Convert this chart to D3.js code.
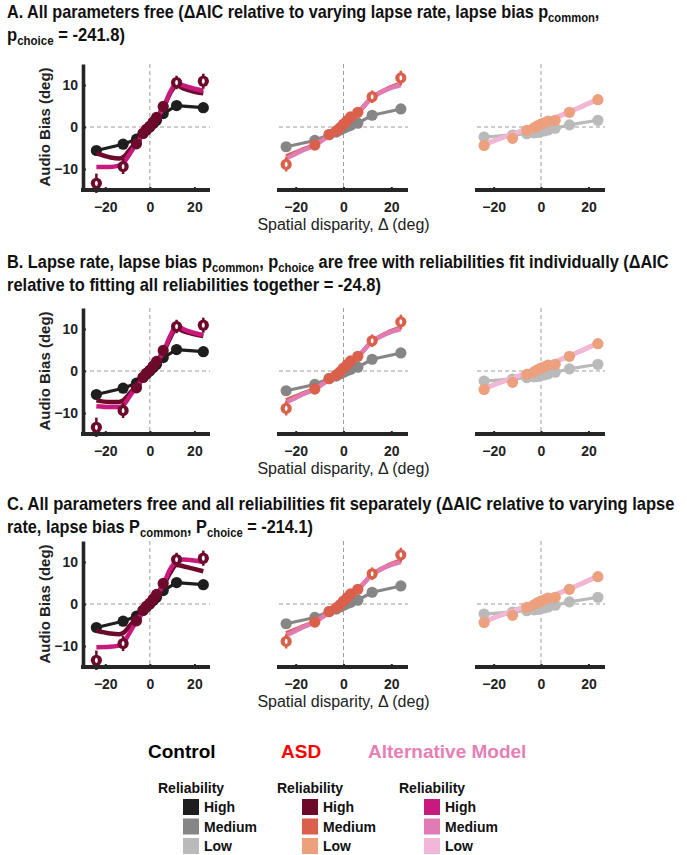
<!DOCTYPE html>
<html><head><meta charset="utf-8">
<script src="https://cdn.jsdelivr.net/npm/d3@7"></script>
<style>body{margin:0;background:#fff}svg{display:block}</style>
</head><body><svg id="c" width="687" height="855"></svg>
<script>
// ---------------- DATA ----------------
const disparity = [-24, -12, -6, -3, -1.5, 0, 1.5, 3, 6, 12, 24];
const xTicks = [-20, 0, 20];
const yTicks = [-10, 0, 10];
const reliabilities = ["High", "Medium", "Low"];

const ctrlHigh   = [-5.6, -4.1, -2.9, -1.5, -0.7, 0.0, 0.8, 1.6, 3.2, 5.1, 4.6];
const ctrlMedium = [-4.7, -3.2, -1.8, -1.2, -0.7, -0.3, 0.1, 0.4, 0.9, 2.8, 4.3];
const ctrlLow    = [-2.4, -1.9, -1.6, -1.4, -1.3, -1.1, -0.9, -0.7, -0.3, 0.5, 1.6];

const asdHigh   = [-13.4, -9.4, -4.0, -1.5, -0.5, 0.2, 1.2, 2.3, 4.9, 10.6, 10.9];
const asdMedium = [-8.9, -4.3, -1.8, -0.9, -0.2, 0.7, 1.5, 2.4, 3.5, 7.2, 11.7];
const asdLow    = [-4.4, -2.7, -0.8, -0.2, 0.3, 0.7, 1.0, 1.4, 1.6, 3.5, 6.5];

const asdHighErr   = [2.3, 1.8, 0.6, 0.5, 0.5, 0.5, 0.5, 0.5, 0.7, 1.6, 1.8];
const asdMediumErr = [1.7, 0.8, 0.5, 0.4, 0.4, 0.4, 0.4, 0.4, 0.5, 1.5, 1.7];
const asdLowErr    = [0.6, 0.5, 0.3, 0.3, 0.3, 0.3, 0.3, 0.3, 0.3, 0.5, 0.6];

// model fit curves (high reliability, per panel)
const fitXHigh = [-24, -18, -14, -12, -9, -6, -3, 0, 3, 6, 9, 12, 15, 18, 24];
const altHighA    = [-9.5, -9.5, -9.2, -8.6, -6.4, -3.9, -1.8, 0, 2.1, 4.5, 8.2, 10.4, 9.9, 9.4, 8.6];
const asdFitHighA = [-6.3, -7.2, -7.5, -7.2, -5.4, -3.5, -1.7, 0, 2.1, 4.4, 7.9, 9.9, 9.2, 8.7, 8.0];
const altHighB    = [-8.4, -8.6, -8.6, -8.2, -6.0, -3.8, -1.8, 0, 2.1, 4.5, 8.2, 10.7, 10.0, 9.4, 8.6];
const asdFitHighB = [-7.0, -7.4, -7.4, -7.0, -5.3, -3.5, -1.7, 0, 2.0, 4.3, 7.7, 10.2, 9.5, 9.0, 8.3];
const altHighC    = [-10.3, -10.2, -9.9, -9.3, -6.8, -4.1, -2.0, 0, 2.1, 4.6, 8.2, 10.2, 10.6, 10.5, 10.0];
const asdFitHighC = [-6.4, -7.0, -7.2, -6.9, -5.2, -3.4, -1.7, 0, 2.0, 4.2, 7.3, 9.3, 9.0, 8.6, 7.8];

// model fit curves (medium / low reliability)
const fitXMedLow = [-24, -18, -12, -6, 0, 6, 12, 18, 24];
const altMedium    = [-7.5, -5.8, -4.3, -2.0, 0.5, 3.4, 7.0, 8.9, 10.0];
const asdFitMedium = [-7.0, -5.6, -4.2, -2.0, 0.5, 3.4, 7.0, 9.0, 10.3];
const altLow    = [-4.3, -2.9, -1.7, -0.4, 0.9, 2.2, 3.6, 5.1, 6.6];
const asdFitLow = [-4.2, -2.9, -1.7, -0.4, 0.9, 2.2, 3.6, 5.1, 6.6];

const ctrlColors = ["#1e1e1e", "#868686", "#bababa"];
const asdColors  = ["#6d0a2c", "#da604c", "#eca07e"];
const altColors  = ["#c8197c", "#e07bb3", "#f1b6d8"];

const titles = [
  [[["A.  All parameters free (ΔAIC relative to varying lapse rate, lapse bias p", 0], ["common", 1], [",", 0]],
   [["p", 0], ["choice", 1], [" = -241.8)", 0]]],
  [[["B. Lapse rate, lapse bias p", 0], ["common", 1], [", p", 0], ["choice", 1], [" are free with reliabilities fit individually (ΔAIC", 0]],
   [["relative to fitting all reliabilities together = -24.8)", 0]]],
  [[["C. All parameters free and all reliabilities fit separately (ΔAIC relative to varying lapse", 0]],
   [["rate, lapse bias P", 0], ["common", 1], [", P", 0], ["choice", 1], [" = -214.1)", 0]]]
];
const legendGroups = ["Control", "ASD", "Alternative Model"];
const legendGroupColors = ["#000000", "#ff0000", "#e67fb5"];

// ---------------- LAYOUT ----------------
const FONT = '"Liberation Sans", Arial, Helvetica, sans-serif';
const svg = d3.select("#c").attr("font-family", FONT);
const AX = "#262626";

const panels = [
  { top: 64, bottom: 190, titleY: [18, 41], titleW: [593, 118], altHigh: altHighA, asdFitHigh: asdFitHighA },
  { top: 308, bottom: 434, titleY: [268, 291], titleW: [662, 374], altHigh: altHighB, asdFitHigh: asdFitHighB },
  { top: 541, bottom: 667, titleY: [510, 533], titleW: [668, 306], altHigh: altHighC, asdFitHigh: asdFitHighC }
];
const cols = [
  { x0: 83, x1: 210, dom: [-30, 27] },
  { x0: 279, x1: 408, dom: [-27, 27] },
  { x0: 477, x1: 605, dom: [-27, 27] }
];

// ---------------- TITLES ----------------
function drawTitleLine(segs, y, w) {
  const t = svg.append("text").attr("font-weight", "bold").attr("font-size", 18).attr("fill", "#111")
    .attr("transform", `translate(7,${y})`);
  let inSub = false;
  segs.forEach(([s, sub]) => {
    const ts = t.append("tspan").text(s);
    if (sub) { ts.attr("font-size", 12.5); if (!inSub) ts.attr("dy", 4); inSub = true; }
    else { if (inSub) ts.attr("dy", -4); inSub = false; }
  });
  const nat = t.node().getComputedTextLength();
  t.attr("transform", `translate(7,${y}) scale(${w / nat},1)`);
}
panels.forEach((p, i) => {
  titles[i].forEach((segs, j) => drawTitleLine(segs, p.titleY[j], p.titleW[j]));
});

// ---------------- SUBPLOTS ----------------
const ctrlSeries = [ctrlHigh, ctrlMedium, ctrlLow];
const asdSeries = [asdHigh, asdMedium, asdLow];
const asdErrs = [asdHighErr, asdMediumErr, asdLowErr];
const R = 5.6;

panels.forEach((p, pi) => {
  const y = d3.scaleLinear().domain([-15, 15]).range([p.bottom, p.top]);
  cols.forEach((c, ci) => {
    const x = d3.scaleLinear().domain(c.dom).range([c.x0, c.x1]);
    const g = svg.append("g");
    g.append("line").attr("x1", x(0)).attr("x2", x(0)).attr("y1", p.top).attr("y2", p.bottom)
      .attr("stroke", "#9c9c9c").attr("stroke-width", 1).attr("stroke-dasharray", "4,3");
    g.append("line").attr("x1", c.x0).attr("x2", c.x1).attr("y1", y(0)).attr("y2", y(0))
      .attr("stroke", "#9c9c9c").attr("stroke-width", 1).attr("stroke-dasharray", "4,3");

    const ctrl = ctrlSeries[ci], asd = asdSeries[ci], err = asdErrs[ci];
    const fitX = ci === 0 ? fitXHigh : fitXMedLow;
    const altFit = ci === 0 ? p.altHigh : (ci === 1 ? altMedium : altLow);
    const asdFit = ci === 0 ? p.asdFitHigh : (ci === 1 ? asdFitMedium : asdFitLow);

    const lineLin = d3.line().x(d => x(d[0])).y(d => y(d[1]));
    const ctrlPts = disparity.map((d, i) => [d, ctrl[i]]);
    g.append("path").attr("d", lineLin(ctrlPts)).attr("fill", "none")
      .attr("stroke", ctrlColors[ci]).attr("stroke-width", 3.2).attr("stroke-linejoin", "round");
    g.selectAll(".cd").data(ctrlPts).enter().append("circle")
      .attr("cx", d => x(d[0])).attr("cy", d => y(d[1])).attr("r", R).attr("fill", ctrlColors[ci]);

    const lineSmooth = d3.line().x(d => x(d[0])).y(d => y(d[1])).curve(d3.curveMonotoneX);
    g.append("path").attr("d", lineSmooth(fitX.map((d, i) => [d, asdFit[i]]))).attr("fill", "none")
      .attr("stroke", asdColors[ci]).attr("stroke-width", 4.5);
    g.append("path").attr("d", lineSmooth(fitX.map((d, i) => [d, altFit[i]]))).attr("fill", "none")
      .attr("stroke", altColors[ci]).attr("stroke-width", 4.5);

    const asdPts = disparity.map((d, i) => [d, asd[i], err[i]]);
    const eg = g.selectAll(".ad").data(asdPts).enter().append("g");
    eg.append("line").attr("x1", d => x(d[0])).attr("x2", d => x(d[0]))
      .attr("y1", d => y(d[1] - d[2])).attr("y2", d => y(d[1] + d[2]))
      .attr("stroke", asdColors[ci]).attr("stroke-width", 2.5);
    eg.append("circle").attr("cx", d => x(d[0])).attr("cy", d => y(d[1])).attr("r", R).attr("fill", asdColors[ci]);
    eg.filter(d => (y(d[1] - d[2]) - y(d[1])) > R)
      .append("ellipse").attr("cx", d => x(d[0])).attr("cy", d => y(d[1]))
      .attr("rx", 1.4).attr("ry", 2.6).attr("fill", "#fff");

    const xa = g.append("g").attr("transform", `translate(0,${p.bottom})`)
      .call(d3.axisBottom(x).tickValues(xTicks).tickSize(-3).tickSizeOuter(0).tickPadding(12).tickFormat(d3.format("d")));
    xa.attr("font-family", FONT).attr("font-size", 14).attr("font-weight", "bold").attr("color", AX);
    xa.select(".domain").attr("stroke-width", 4).attr("d", `M${c.x0 - 2},0H${c.x1}`);
    xa.selectAll(".tick line").attr("stroke-width", 2);
    xa.selectAll(".tick text").attr("fill", "#222");
    if (ci === 0) {
      const ya = g.append("g").attr("transform", `translate(${c.x0},0)`)
        .call(d3.axisLeft(y).tickValues(yTicks).tickSize(-3).tickSizeOuter(0).tickPadding(5).tickFormat(d3.format("d")));
      ya.attr("font-family", FONT).attr("font-size", 14).attr("font-weight", "bold").attr("color", AX);
      ya.select(".domain").attr("stroke-width", 3.6);
      ya.selectAll(".tick line").attr("stroke-width", 2);
      ya.selectAll(".tick text").attr("fill", "#222");
      g.append("text").attr("transform", `translate(50,${(p.top + p.bottom) / 2}) rotate(-90)`)
        .attr("text-anchor", "middle").attr("font-size", 15).attr("font-weight", "bold").attr("fill", "#222")
        .text("Audio Bias (deg)");
    }
    if (ci === 1) {
      g.append("text").attr("x", (c.x0 + c.x1) / 2).attr("y", p.bottom + 40)
        .attr("text-anchor", "middle").attr("font-size", 16).attr("fill", "#222")
        .text("Spatial disparity,  Δ (deg)");
    }
  });
});

// ---------------- LEGEND ----------------
const legHeadX = [148, 281, 368];
legendGroups.forEach((s, i) => {
  svg.append("text").attr("x", legHeadX[i]).attr("y", 758).attr("font-size", 19).attr("font-weight", "bold")
    .attr("fill", legendGroupColors[i]).text(s);
});
const relX = [158, 277, 399], swX = [183, 302, 424];
const palettes = [ctrlColors, asdColors, altColors];
palettes.forEach((pal, gi) => {
  svg.append("text").attr("x", relX[gi]).attr("y", 793).attr("font-size", 14).attr("font-weight", "bold")
    .attr("fill", "#111").text("Reliability");
  reliabilities.forEach((r, ri) => {
    const cy = 807 + ri * 19.5;
    svg.append("rect").attr("x", swX[gi]).attr("y", cy - 8).attr("width", 16).attr("height", 16).attr("fill", pal[ri]);
    svg.append("text").attr("x", swX[gi] + 21).attr("y", cy + 5).attr("font-size", 14).attr("font-weight", "bold")
      .attr("fill", "#111").text(r);
  });
});
</script></body></html>
